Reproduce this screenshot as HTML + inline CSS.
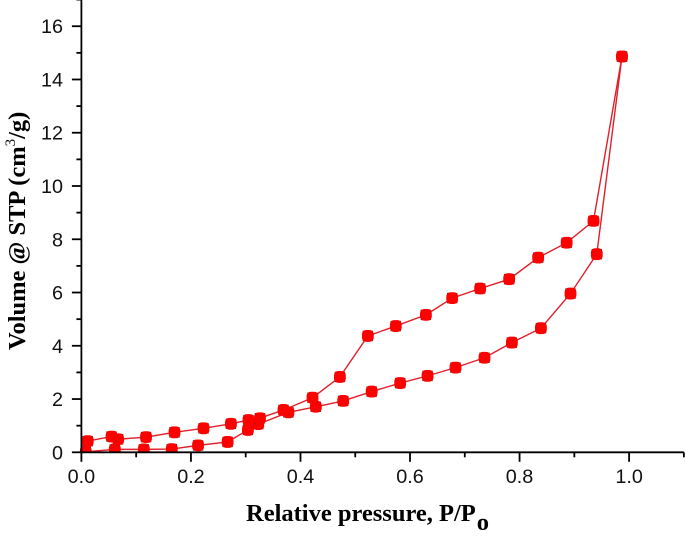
<!DOCTYPE html>
<html>
<head>
<meta charset="utf-8">
<style>
html,body{margin:0;padding:0;background:#fff;}
svg{display:block;}
.tick{font-family:"Liberation Sans",sans-serif;font-size:19.8px;fill:#111;}
.title{font-family:"Liberation Serif",serif;font-size:24.5px;font-weight:bold;fill:#000;}
</style>
</head>
<body>
<svg id="chart" width="685" height="538" viewBox="0 0 685 538" xmlns="http://www.w3.org/2000/svg">
<defs><clipPath id="plot-clip"><rect x="70" y="0" width="615" height="452.3"/></clipPath></defs>
<g id="marks" clip-path="url(#plot-clip)"></g>
<g id="axes"></g>
<text class="title" x="246" y="521">Relative pressure, P/P<tspan dx="1" dy="9">o</tspan></text>
<text class="title" transform="translate(25,350) rotate(-90)" x="0" y="0">Volume @ STP (cm<tspan dy="-10" font-size="15px" font-weight="normal">3</tspan><tspan dy="10">/g)</tspan></text>
</svg>
<script>
const adsorptionX = [0.008,0.061,0.114,0.165,0.213,0.267,0.304,0.323,0.378,0.428,0.478,0.530,0.582,0.632,0.683,0.736,0.786,0.839,0.893,0.941,0.987];
const adsorptionY = [0.02,0.11,0.11,0.12,0.26,0.39,0.84,1.06,1.50,1.71,1.93,2.28,2.60,2.87,3.18,3.55,4.12,4.66,5.96,7.44,14.86];
const desorptionX = [0.987,0.935,0.886,0.834,0.781,0.728,0.677,0.629,0.574,0.523,0.472,0.422,0.369,0.326,0.305,0.273,0.223,0.170,0.118,0.067,0.055,0.0115];
const desorptionY = [14.86,8.69,7.87,7.31,6.50,6.15,5.79,5.16,4.74,4.37,2.83,2.05,1.59,1.28,1.21,1.07,0.90,0.75,0.57,0.49,0.59,0.42];
const xTickLabels = ["0.0","0.2","0.4","0.6","0.8","1.0"];
const yTickLabels = ["0","2","4","6","8","10","12","14","16"];

const NS = "http://www.w3.org/2000/svg";
const sx = v => 81.4 + v * 547.7;
const sy = v => 452.3 - v * 26.63;
const marks = document.getElementById("marks");
const axes = document.getElementById("axes");

function mk(parent, tag, attrs) {
  const el = document.createElementNS(NS, tag);
  for (const k in attrs) el.setAttribute(k, attrs[k]);
  parent.appendChild(el);
  return el;
}

function drawSeries(xs, ys, name) {
  const line = mk(marks, "polyline", {
    points: xs.map((x, i) => sx(x) + "," + sy(ys[i])).join(" "),
    fill: "none", stroke: "#e0202a", "stroke-width": 1.4
  });
  
  
}

function drawPoints(xs, ys, name) {
  xs.forEach((x, i) => {
    const g = mk(marks, "g", {});
    
    
    mk(g, "rect", {x: sx(x) - 5.2, y: sy(ys[i]) - 5.2, width: 10.4, height: 10.4, fill: "#333"});
    mk(g, "rect", {x: sx(x) - 5.9, y: sy(ys[i]) - 5.9, width: 11.8, height: 11.8, rx: 4.2, fill: "#ff0000"});
  });
}

drawSeries(adsorptionX, adsorptionY, "adsorption");
drawSeries(desorptionX, desorptionY, "desorption");
drawPoints(adsorptionX, adsorptionY, "adsorption");
drawPoints(desorptionX, desorptionY, "desorption");

const axisStyle = {stroke: "#000", "stroke-width": 1.8};
const yAxis = mk(axes, "line", Object.assign({x1: sx(0), x2: sx(0), y1: sy(17), y2: sy(0) + 0.9}, axisStyle));


const xAxis = mk(axes, "line", Object.assign({x1: sx(0), x2: sx(1.1), y1: sy(0), y2: sy(0)}, axisStyle));



for (let i = 0; i <= 17; i++) {
  const major = i % 2 === 0;
  const t = mk(axes, "line", Object.assign({x1: sx(0) - (major ? 9.5 : 5), x2: sx(0), y1: sy(i), y2: sy(i)}, axisStyle));
  
  
}
for (let i = 0; i <= 11; i++) {
  const major = i % 2 === 0;
  const t = mk(axes, "line", Object.assign({x1: sx(i / 10), x2: sx(i / 10), y1: sy(0), y2: sy(0) + (major ? 9.5 : 5)}, axisStyle));
  
  
}
xTickLabels.forEach(s => {
  const t = mk(axes, "text", {class: "tick", x: sx(parseFloat(s)), y: 483, "text-anchor": "middle"});
  t.textContent = s;
  
  
});
yTickLabels.forEach(s => {
  const t = mk(axes, "text", {class: "tick", x: 63, y: sy(parseFloat(s)) + 7, "text-anchor": "end"});
  t.textContent = s;
  
  
});
</script>
</body>
</html>
